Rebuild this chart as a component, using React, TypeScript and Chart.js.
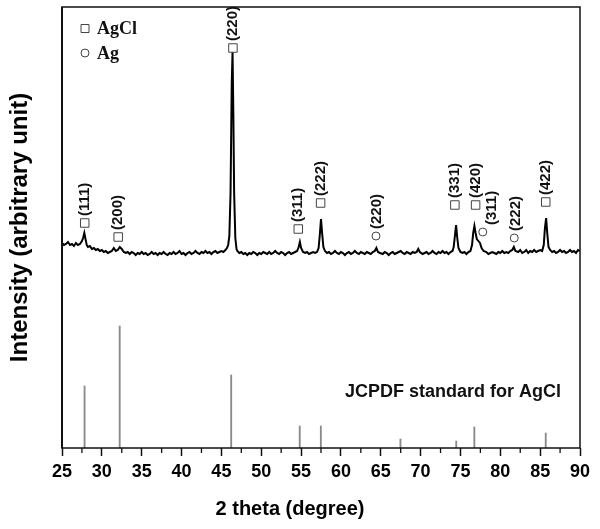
import React, { useEffect, useRef } from "react";
import { Chart, registerables } from "chart.js";

Chart.register(...registerables);

// Measured XRD pattern (2θ in degrees, intensity in arbitrary units)
const twoTheta = [
  25, 25.25, 25.5, 25.75, 26, 26.25, 26.5, 26.75, 27, 27.25,
  27.5, 27.65, 27.8, 27.95, 28.1, 28.25, 28.5, 28.75, 29, 29.25,
  29.5, 29.75, 30, 30.25, 30.5, 30.75, 31, 31.25, 31.5, 31.75,
  32, 32.25, 32.5, 32.75, 33, 33.25, 33.5, 33.75, 34, 34.25,
  34.5, 34.75, 35, 35.25, 35.5, 35.75, 36, 36.25, 36.5, 36.75,
  37, 37.25, 37.5, 37.75, 38, 38.25, 38.5, 38.75, 39, 39.25,
  39.5, 39.75, 40, 40.25, 40.5, 40.75, 41, 41.25, 41.5, 41.75,
  42, 42.25, 42.5, 42.75, 43, 43.25, 43.5, 43.75, 44, 44.25,
  44.5, 44.75, 45, 45.25, 45.5, 45.7, 45.85, 46, 46.15, 46.3,
  46.4, 46.5, 46.6, 46.75, 46.9, 47, 47.25, 47.5, 47.75, 48,
  48.25, 48.5, 48.75, 49, 49.25, 49.5, 49.75, 50, 50.25, 50.5,
  50.75, 51, 51.25, 51.5, 51.75, 52, 52.25, 52.5, 52.75, 53,
  53.25, 53.5, 53.75, 54, 54.25, 54.5, 54.7, 54.85, 55, 55.25,
  55.5, 55.75, 56, 56.25, 56.5, 56.75, 57, 57.2, 57.35, 57.5,
  57.65, 57.8, 58, 58.25, 58.5, 58.75, 59, 59.25, 59.5, 59.75,
  60, 60.25, 60.5, 60.75, 61, 61.25, 61.5, 61.75, 62, 62.25,
  62.5, 62.75, 63, 63.25, 63.5, 63.75, 64, 64.25, 64.45, 64.65,
  64.9, 65.25, 65.5, 65.75, 66, 66.25, 66.5, 66.75, 67, 67.25,
  67.5, 67.75, 68, 68.25, 68.5, 68.75, 69, 69.25, 69.5, 69.7,
  69.9, 70.25, 70.5, 70.75, 71, 71.25, 71.5, 71.75, 72, 72.25,
  72.5, 72.75, 73, 73.25, 73.5, 73.75, 74, 74.15, 74.3, 74.45,
  74.6, 74.75, 75, 75.25, 75.5, 75.75, 76, 76.25, 76.45, 76.6,
  76.75, 76.9, 77.05, 77.25, 77.45, 77.65, 77.9, 78.25, 78.5, 78.75,
  79, 79.25, 79.5, 79.75, 80, 80.25, 80.5, 80.75, 81, 81.25,
  81.5, 81.7, 81.9, 82.25, 82.5, 82.75, 83, 83.25, 83.5, 83.75,
  84, 84.25, 84.5, 84.75, 85, 85.25, 85.45, 85.6, 85.75, 85.9,
  86.05, 86.25, 86.5, 86.75, 87, 87.25, 87.5, 87.75, 88, 88.25,
  88.5, 88.75, 89, 89.25, 89.5, 89.75, 90,
];
const intensity = [
  205, 203, 204, 206, 203, 204, 202, 205, 203, 204,
  207, 210, 215, 209, 203, 201, 202, 199, 200, 198,
  199, 197, 198, 196, 197, 195, 196, 197, 200, 197,
  198, 201, 199, 196, 195, 196, 194, 196, 195, 193,
  195, 194, 196, 194, 195, 193, 194, 196, 194, 195,
  193, 195, 194, 196, 194, 193, 195, 194, 196, 194,
  195, 197, 194, 195, 193, 195, 196, 194, 195, 197,
  195, 194, 196, 195, 197, 195, 196, 194, 196, 197,
  195, 196, 197, 196, 198, 200, 203, 212, 255, 365,
  396, 335, 255, 210, 199, 197, 195, 196, 194, 195,
  193, 195, 194, 196, 195, 193, 195, 194, 196, 195,
  194, 196, 194, 195, 197, 195, 194, 196, 195, 193,
  195, 196, 194, 195, 196, 197, 201, 206, 200, 196,
  195, 196, 194, 195, 196, 195, 196, 200, 213, 229,
  214, 201, 197, 195, 196, 194, 195, 197, 195, 194,
  196, 195, 193, 195, 196, 194, 195, 197, 195, 194,
  196, 195, 194, 196, 195, 194, 196, 197, 200, 196,
  195, 194, 196, 195, 193, 195, 196, 194, 195, 196,
  197, 195, 194, 196, 195, 194, 196, 195, 196, 199,
  196, 194, 195, 196, 194, 195, 197, 195, 194, 196,
  195, 197, 195, 196, 194, 196, 197, 201, 212, 223,
  210, 200, 196, 195, 196, 194, 196, 197, 203, 215,
  222, 215, 209, 207, 205, 200, 197, 196, 194, 195,
  196, 195, 194, 196, 195, 197, 195, 196, 195, 197,
  198, 201, 197, 196, 198, 195, 196, 198, 195, 197,
  196, 198, 196, 197, 198, 197, 203, 220, 230, 214,
  201, 198, 196, 197, 195, 196, 198, 196, 197, 195,
  196, 198, 196, 197, 195, 198, 197,
];

// JCPDF standard sticks for AgCl
const stdTwoTheta = [27.83, 32.24, 46.23, 54.83, 57.48, 67.47, 74.47, 76.74, 85.7];
const stdIntensity = [62, 122, 73, 22, 22, 9, 7, 21, 15];

// Peak markers: AgCl (squares) and Ag (circles)
const agclTwoTheta = [27.85, 32.05, 46.45, 54.65, 57.45, 74.3, 76.9, 85.7];
const agclMarkY = [225, 211, 400, 219, 245, 243, 243, 246];
const agclLabels = ["(111)", "(200)", "(220)", "(311)", "(222)", "(331)", "(420)", "(422)"];
const agTwoTheta = [64.4, 77.8, 81.75];
const agMarkY = [212, 216, 210];
const agLabels = ["(220)", "(311)", "(222)"];
const agLabelTwoTheta = [64.5, 79.0, 81.95];

const xTicksMinor = [27.5, 32.5, 37.5, 42.5, 47.5, 52.5, 57.5, 62.5, 67.5, 72.5, 77.5, 82.5, 87.5];
const legendLabels = ["AgCl", "Ag"];
const standardText = "JCPDF standard for AgCl";

const SANS = '"Liberation Sans", Arial, sans-serif';
const SERIF = '"Liberation Serif", "Times New Roman", serif';

const annotate = {
  id: "annotate",
  afterDatasetsDraw(chart: any) {
    const { ctx, chartArea: a, scales } = chart;
    const x = scales.x;
    const y = scales.y;
    ctx.save();
    // frame
    ctx.strokeStyle = "#111";
    ctx.lineWidth = 1.5;
    ctx.strokeRect(a.left, a.top, a.right - a.left, a.bottom - a.top);
    ctx.beginPath();
    ctx.lineWidth = 2;
    ctx.moveTo(a.left, a.top);
    ctx.lineTo(a.left, a.bottom);
    ctx.stroke();
    // minor ticks
    ctx.beginPath();
    ctx.lineWidth = 1.3;
    for (const v of xTicksMinor) {
      const px = x.getPixelForValue(v);
      ctx.moveTo(px, a.bottom);
      ctx.lineTo(px, a.bottom + 5);
    }
    ctx.stroke();

    // peak labels (rotated)
    ctx.fillStyle = "#111";
    ctx.font = `bold 15px ${SANS}`;
    ctx.textAlign = "left";
    ctx.textBaseline = "middle";
    const drawLabels = (dsIndex: number, labels: string[], labelX?: number[]) => {
      const meta = chart.getDatasetMeta(dsIndex);
      meta.data.forEach((pt: any, i: number) => {
        const lx = labelX ? x.getPixelForValue(labelX[i]) : pt.x;
        ctx.save();
        ctx.translate(lx, pt.y - 7);
        ctx.rotate(-Math.PI / 2);
        ctx.fillText(labels[i], 0, 0);
        ctx.restore();
      });
    };
    drawLabels(2, agclLabels);
    drawLabels(3, agLabels, agLabelTwoTheta);

    // legend
    const lx = a.left + 23;
    ctx.strokeStyle = "#444";
    ctx.lineWidth = 1;
    ctx.fillStyle = "#fff";
    ctx.beginPath();
    ctx.rect(lx - 4, a.top + 17.5, 8, 8);
    ctx.fill();
    ctx.stroke();
    ctx.beginPath();
    ctx.arc(lx, a.top + 46, 4, 0, Math.PI * 2);
    ctx.fill();
    ctx.stroke();
    ctx.fillStyle = "#111";
    ctx.font = `bold 18px ${SERIF}`;
    ctx.textBaseline = "alphabetic";
    ctx.fillText(legendLabels[0], lx + 12, a.top + 26.5);
    ctx.fillText(legendLabels[1], lx + 12, a.top + 51.5);

    // standard caption
    ctx.font = `bold 18px ${SANS}`;
    ctx.fillText(standardText, x.getPixelForValue(60.5), y.getPixelForValue(51.5));
    ctx.restore();
  },
};

export default function App() {
  const ref = useRef<HTMLCanvasElement | null>(null);
  useEffect(() => {
    if (!ref.current) return;
    Chart.defaults.font.family = SANS;
    const chart = new Chart(ref.current, {
      type: "line",
      data: {
        datasets: [
          {
            type: "line",
            label: "pattern",
            data: twoTheta.map((t, i) => ({ x: t, y: intensity[i] })),
            borderColor: "#000",
            borderWidth: 2,
            pointRadius: 0,
            tension: 0,
            fill: false,
            order: 2,
          } as any,
          {
            type: "bar",
            label: "JCPDF",
            data: stdTwoTheta.map((t, i) => ({ x: t, y: stdIntensity[i] })),
            backgroundColor: "#8a8a8a",
            barThickness: 1.2,
            order: 3,
          } as any,
          {
            type: "scatter",
            label: "AgCl",
            data: agclTwoTheta.map((t, i) => ({ x: t, y: agclMarkY[i] })),
            pointStyle: "rect",
            pointRadius: 6,
            borderColor: "#444",
            borderWidth: 1,
            backgroundColor: "#fff",
            showLine: false,
            order: 1,
          } as any,
          {
            type: "scatter",
            label: "Ag",
            data: agTwoTheta.map((t, i) => ({ x: t, y: agMarkY[i] })),
            pointStyle: "circle",
            pointRadius: 4,
            borderColor: "#444",
            borderWidth: 1,
            backgroundColor: "#fff",
            showLine: false,
            order: 1,
          } as any,
        ],
      },
      options: {
        responsive: false,
        animation: false,
        devicePixelRatio: 1,
        layout: { padding: { top: 7, right: 20, left: 0, bottom: 0 } },
        plugins: {
          legend: { display: false },
          tooltip: { enabled: false },
          title: {
            display: true,
            position: "bottom",
            text: "2 theta (degree)",
            color: "#000",
            font: { size: 20, weight: "bold", family: SANS },
            padding: { top: 0, bottom: 8 },
          },
        },
        scales: {
          x: {
            type: "linear",
            min: 25,
            max: 90,
            offset: false,
            ticks: {
              stepSize: 5,
              color: "#000",
              font: { size: 18, weight: "bold", family: SANS },
              padding: 5,
              maxRotation: 0,
            },
            grid: {
              display: true,
              drawOnChartArea: false,
              drawTicks: true,
              tickLength: 8,
              tickColor: "#111",
              tickWidth: 1.5,
              offset: false,
            },
            border: { display: false },
            afterFit: (s: any) => {
              s.height = 49;
            },
          },
          y: {
            min: 0,
            max: 441,
            ticks: { display: false },
            grid: { display: false },
            border: { display: false },
            title: {
              display: true,
              text: "Intensity (arbitrary unit)",
              color: "#000",
              font: { size: 24, weight: "bold", family: SANS },
              padding: { top: 6, bottom: 0 },
            },
            afterFit: (s: any) => {
              s.width = 62;
            },
          },
        },
      },
      plugins: [annotate],
    });
    return () => chart.destroy();
  }, []);
  return (
    <div style={{ position: "absolute", left: 0, top: 0, width: 600, height: 529, background: "#fff" }}>
      <canvas ref={ref} width={600} height={529} />
    </div>
  );
}
